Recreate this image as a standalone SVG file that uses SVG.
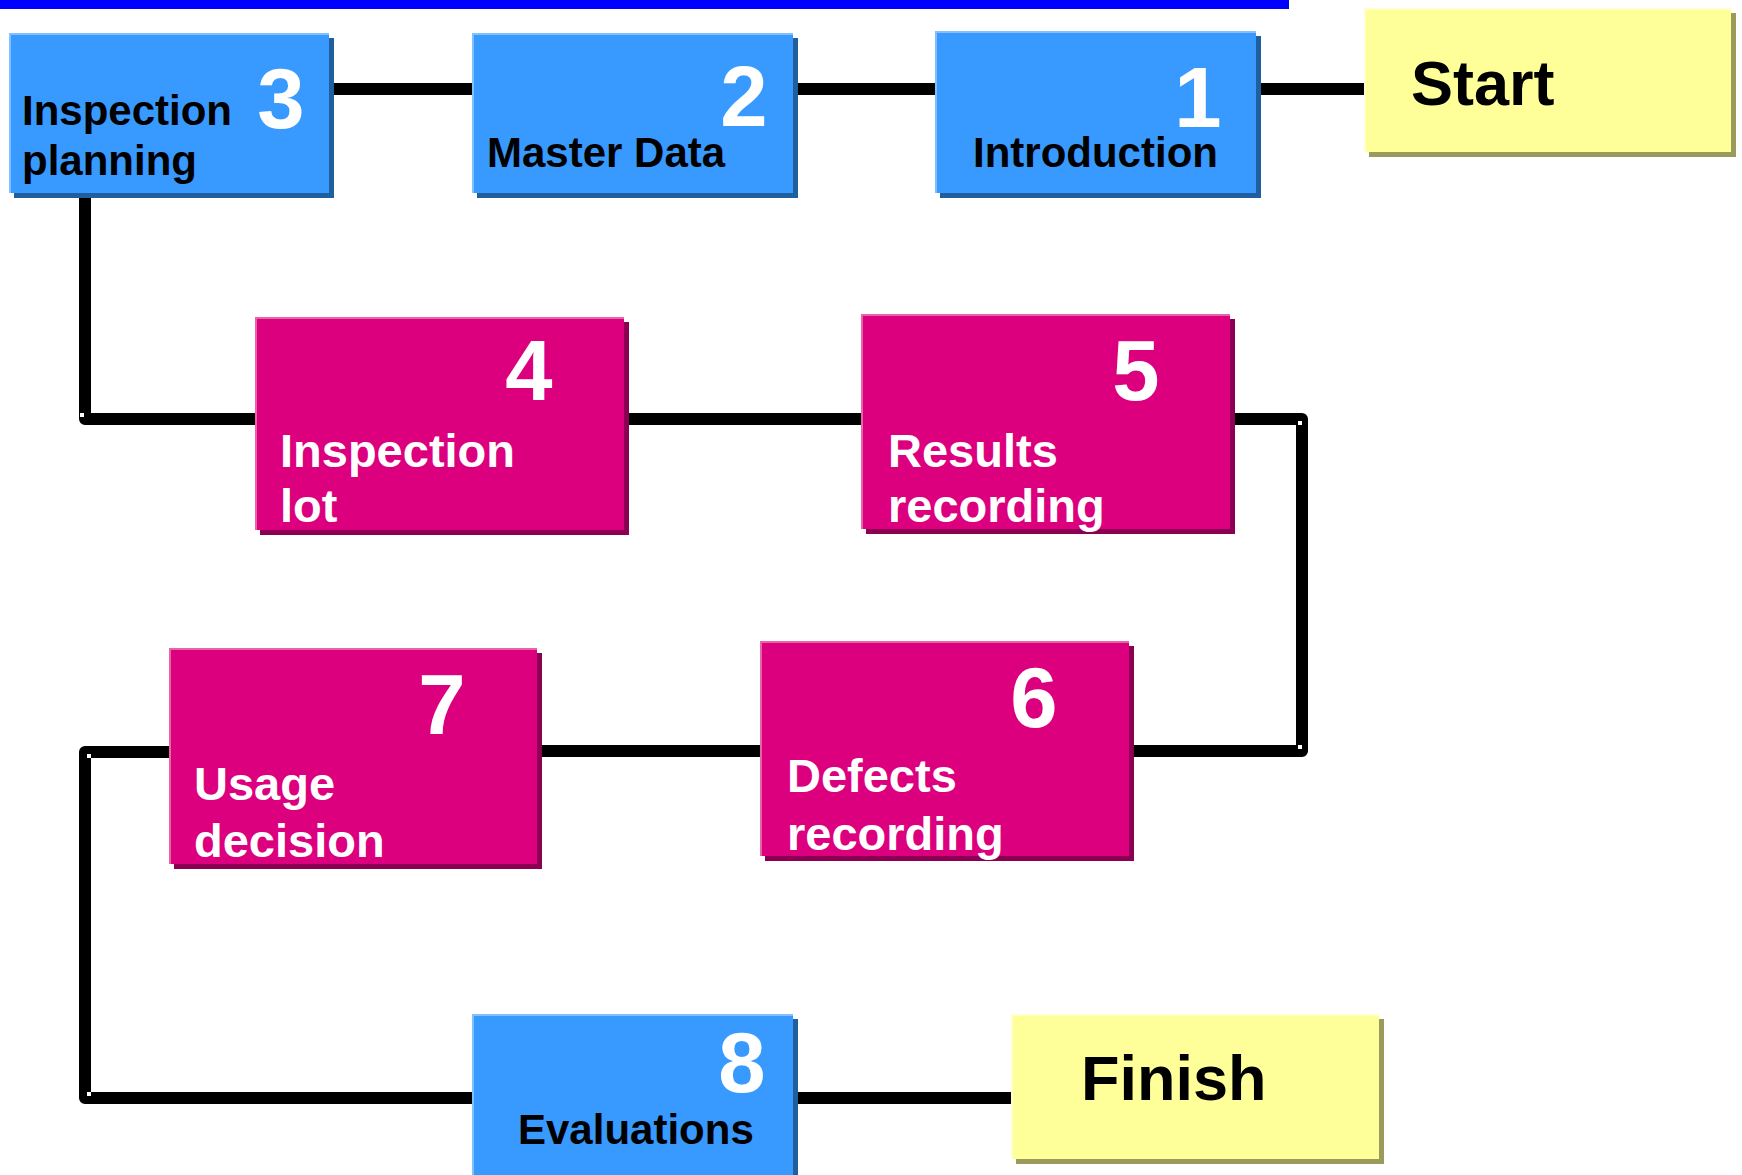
<svg xmlns="http://www.w3.org/2000/svg" width="1742" height="1175" viewBox="0 0 1742 1175">
<style>
text{font-family:"Liberation Sans",Arial,sans-serif;font-weight:bold}
.conn{fill:none;stroke:#000;stroke-width:12;stroke-linejoin:round}
.bsh{fill:#1f5f9f}.bhl{fill:#80c0ff}.bf{fill:#3899ff}
.psh{fill:#8b0052}.phl{fill:#e864a8}.pf{fill:#dc007f}
.ysh{fill:#9a9a5a}.yhl{fill:#ffffcc}.yf{fill:#ffff99}
.lb{fill:#000;font-size:42px}
.lp{fill:#fff;font-size:47px}
.num{fill:#fff;font-size:85px;text-anchor:middle}
.big{fill:#000;font-size:63px}
.hd{fill:#fff}
</style>
<rect x="0" y="0" width="1289" height="9" fill="#0000ff"/>
<g id="connectors">
<path class="conn" d="M334 89H472M798 89H935M1261 89H1364"/>
<path class="conn" d="M85 197V419H255"/>
<path class="conn" d="M629 419H861"/>
<path class="conn" d="M1235 419H1302V751H1134"/>
<path class="conn" d="M542 751H760"/>
<path class="conn" d="M169 752H85V1098H472"/>
<path class="conn" d="M798 1098H1011"/>
<rect class="hd" x="80" y="413" width="4" height="4"/>
<rect class="hd" x="1298" y="421" width="4" height="4"/>
<rect class="hd" x="1298" y="745" width="4" height="4"/>
<rect class="hd" x="87" y="754" width="4" height="4"/>
<rect class="hd" x="87" y="1092" width="4" height="4"/>
</g>
<g id="start">
<rect class="ysh" x="1369" y="13" width="367" height="144"/>
<rect class="yhl" x="1364" y="8" width="367" height="144"/>
<rect class="yf" x="1366" y="10" width="365" height="142"/>
<text class="big" x="1411" y="105">Start</text>
</g>
<g id="node1">
<rect class="bsh" x="940" y="36" width="321" height="162"/>
<rect class="bhl" x="935" y="31" width="321" height="162"/>
<rect class="bf" x="937" y="33" width="319" height="160"/>
<text class="num" x="1198" y="127">1</text>
<text class="lb" x="973" y="167">Introduction</text>
</g>
<g id="node2">
<rect class="bsh" x="477" y="38" width="321" height="160"/>
<rect class="bhl" x="472" y="33" width="321" height="160"/>
<rect class="bf" x="474" y="35" width="319" height="158"/>
<text class="num" x="744" y="126">2</text>
<text class="lb" x="487" y="167">Master Data</text>
</g>
<g id="node3">
<rect class="bsh" x="14" y="38" width="320" height="160"/>
<rect class="bhl" x="9" y="33" width="320" height="160"/>
<rect class="bf" x="11" y="35" width="318" height="158"/>
<text class="num" x="281" y="128">3</text>
<text class="lb" x="22" y="125">Inspection</text>
<text class="lb" x="22" y="175">planning</text>
</g>
<g id="node4">
<rect class="psh" x="260" y="322" width="369" height="213"/>
<rect class="phl" x="255" y="317" width="369" height="213"/>
<rect class="pf" x="257" y="319" width="367" height="211"/>
<text class="num" x="529" y="400">4</text>
<text class="lp" x="280" y="467">Inspection</text>
<text class="lp" x="280" y="522">lot</text>
</g>
<g id="node5">
<rect class="psh" x="866" y="319" width="369" height="215"/>
<rect class="phl" x="861" y="314" width="369" height="215"/>
<rect class="pf" x="863" y="316" width="367" height="213"/>
<text class="num" x="1136" y="400">5</text>
<text class="lp" x="888" y="467">Results</text>
<text class="lp" x="888" y="522">recording</text>
</g>
<g id="node6">
<rect class="psh" x="765" y="646" width="369" height="215"/>
<rect class="phl" x="760" y="641" width="369" height="215"/>
<rect class="pf" x="762" y="643" width="367" height="213"/>
<text class="num" x="1034" y="727">6</text>
<text class="lp" x="787" y="792">Defects</text>
<text class="lp" x="787" y="850">recording</text>
</g>
<g id="node7">
<rect class="psh" x="174" y="653" width="368" height="216"/>
<rect class="phl" x="169" y="648" width="368" height="216"/>
<rect class="pf" x="171" y="650" width="366" height="214"/>
<text class="num" x="442" y="734">7</text>
<text class="lp" x="194" y="800">Usage</text>
<text class="lp" x="194" y="857">decision</text>
</g>
<g id="node8">
<rect class="bsh" x="477" y="1019" width="321" height="170"/>
<rect class="bhl" x="472" y="1014" width="321" height="170"/>
<rect class="bf" x="474" y="1016" width="319" height="168"/>
<text class="num" x="742" y="1092">8</text>
<text class="lb" x="518" y="1144">Evaluations</text>
</g>
<g id="finish">
<rect class="ysh" x="1016" y="1019" width="368" height="145"/>
<rect class="yhl" x="1011" y="1014" width="368" height="145"/>
<rect class="yf" x="1013" y="1016" width="366" height="143"/>
<text class="big" x="1081" y="1100">Finish</text>
</g>
</svg>
